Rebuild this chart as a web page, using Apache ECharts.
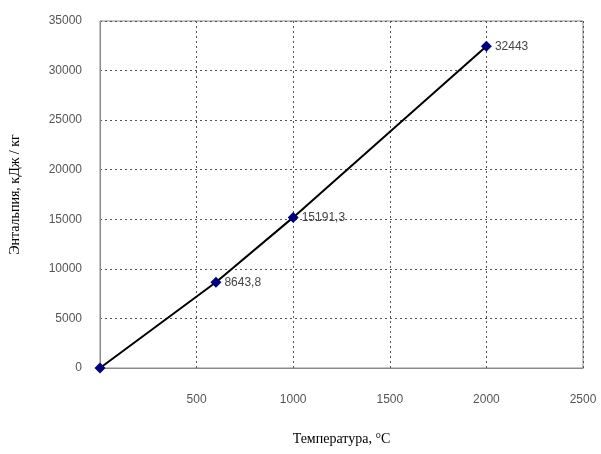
<!DOCTYPE html>
<html>
<head>
<meta charset="utf-8">
<script src="https://cdn.jsdelivr.net/npm/echarts@6/dist/echarts.min.js"></script>
<style>
  html, body { margin: 0; padding: 0; background: #fff; }
  #enthalpy { width: 601px; height: 454px; }
</style>
</head>
<body>
<div id="enthalpy"></div>
<script>
  // температура, °C и энтальпия, кДж/кг
  let temperatures = [0, 600, 1000, 2000];
  let enthalpies = [0, 8643.8, 15191.3, 32443];
  let pointLabels = ['', '8643,8', '15191,3', '32443'];

  let chartDom = document.getElementById('enthalpy');
  let myChart = echarts.init(chartDom);
  let gridLine = { show: true, lineStyle: { color: '#555', type: [2, 3], width: 1 } };
  let option = {
    animation: false,
    grid: {
      left: 97,
      right: 18,
      top: 21,
      bottom: 86,
      show: true,
      borderColor: '#8a8a8a',
      borderWidth: 1
    },
    xAxis: {
      type: 'value',
      name: 'Температура, °C',
      nameLocation: 'middle',
      nameGap: 64,
      nameTextStyle: { fontFamily: 'Liberation Serif', fontSize: 14, color: '#000' },
      min: 0,
      max: 2500,
      interval: 500,
      axisLine: { show: true, lineStyle: { color: '#8a8a8a' } },
      axisTick: { show: false },
      axisLabel: {
        margin: 26,
        color: '#555',
        fontFamily: 'Liberation Sans',
        fontSize: 12,
        formatter: v => v === 0 ? '' : String(v)
      },
      splitLine: gridLine
    },
    yAxis: {
      type: 'value',
      name: 'Энтальпия, кДж / кг',
      nameLocation: 'middle',
      nameGap: 78,
      nameTextStyle: { fontFamily: 'Liberation Serif', fontSize: 14, color: '#000' },
      min: 0,
      max: 35000,
      interval: 5000,
      axisLine: { show: true, lineStyle: { color: '#8a8a8a' } },
      axisTick: { show: false },
      axisLabel: {
        margin: 18,
        color: '#555',
        fontFamily: 'Liberation Sans',
        fontSize: 12,
        formatter: v => String(v)
      },
      splitLine: gridLine
    },
    series: [
      {
        type: 'line',
        data: temperatures.map((t, i) => [t, enthalpies[i]]),
        symbol: 'diamond',
        symbolSize: 11,
        itemStyle: { color: '#000080' },
        lineStyle: { color: '#000', width: 2 },
        label: {
          show: true,
          position: 'right',
          distance: 3,
          color: '#444',
          fontFamily: 'Liberation Sans',
          fontSize: 12,
          formatter: p => pointLabels[p.dataIndex]
        }
      }
    ]
  };
  option && myChart.setOption(option);
</script>
</body>
</html>
